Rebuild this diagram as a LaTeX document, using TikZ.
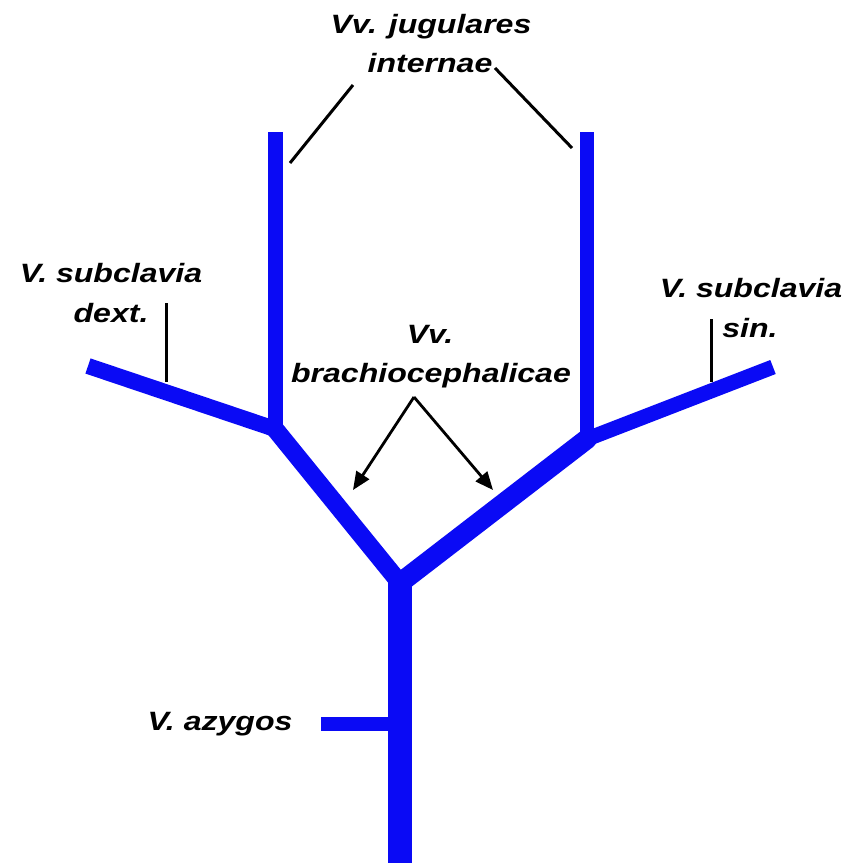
\documentclass[tikz,border=0pt]{standalone}
\usepackage{fontspec}
\setmainfont{Liberation Sans}[FakeStretch=1.21]
\usetikzlibrary{arrows.meta}

\tikzset{
  vein/.style={draw=vblue, line cap=butt, line join=miter},
  lbl/.style={font=\fontsize{26.5}{39}\selectfont\bfseries\itshape, inner sep=0pt, anchor=base, text=black},
  leader/.style={draw=black, line width=3pt},
  pointer/.style={draw=black, line width=2.8pt, -{Triangle[length=18pt,width=15pt]}},
}
\definecolor{vblue}{RGB}{10,10,245}

\begin{document}
\begin{tikzpicture}[x=1pt, y=-1pt]
  \useasboundingbox[fill=white] (0,0) rectangle (859,863);

  % junctions and ends of the veins
  \coordinate (jugLtop) at (275,132);
  \coordinate (jugRtop) at (587,132);
  \coordinate (jL) at (275,429);
  \coordinate (jR) at (587,439);
  \coordinate (subLend) at (88,366);
  \coordinate (subRend) at (773,367);
  \coordinate (vJoin) at (400,583);
  \coordinate (cavaTop) at (400,572);
  \coordinate (cavaBot) at (400,870);
  \coordinate (azyEnd) at (321,724);
  \coordinate (azyJoin) at (400,724);

  % veins
  \draw[vein, line width=15pt] (jugLtop) -- (jL);
  \draw[vein, line width=14pt] (jugRtop) -- (jR);
  \draw[vein, line width=16pt] (subLend) -- (jL);
  \draw[vein, line width=18pt] (jL) -- (vJoin);
  \draw[vein, line width=15pt] (subRend) -- (jR);
  \draw[vein, line width=20pt, line cap=round] (jR) -- (vJoin);
  \draw[vein, line width=24pt] (cavaTop) -- (cavaBot);
  \draw[vein, line width=14pt] (azyEnd) -- (azyJoin);

  % labels
  \node[lbl] (jug1) at (431,33) {Vv. jugulares};
  \node[lbl] (jug2) at (430,72) {internae};
  \node[lbl] (sd1) at (111,282) {V. subclavia};
  \node[lbl] (sd2) at (111,322) {dext.};
  \node[lbl] (ss1) at (751,297) {V. subclavia};
  \node[lbl] (ss2) at (750,337) {sin.};
  \node[lbl] (bc1) at (430,343) {Vv.};
  \node[lbl] (bc2) at (431,382) {brachiocephalicae};
  \node[lbl] (azy) at (220,730) {V. azygos};

  % leader lines
  \coordinate (jugLa) at (353,85);
  \coordinate (jugLb) at (290,163);
  \coordinate (jugRa) at (495,68);
  \coordinate (jugRb) at (572,148);
  \coordinate (sdA) at (166,303);
  \coordinate (sdB) at (166,382);
  \coordinate (ssA) at (711,319);
  \coordinate (ssB) at (711,382);
  \draw[leader] (jugLa) -- (jugLb);
  \draw[leader] (jugRa) -- (jugRb);
  \draw[leader] (sdA) -- (sdB);
  \draw[leader] (ssA) -- (ssB);

  % arrows to the brachiocephalic veins
  \coordinate (bcApex) at (414,397);
  \coordinate (bcL) at (353,490);
  \coordinate (bcR) at (493,490);
  \draw[pointer] (bcApex) -- (bcL);
  \draw[pointer] (bcApex) -- (bcR);
\end{tikzpicture}
\end{document}
